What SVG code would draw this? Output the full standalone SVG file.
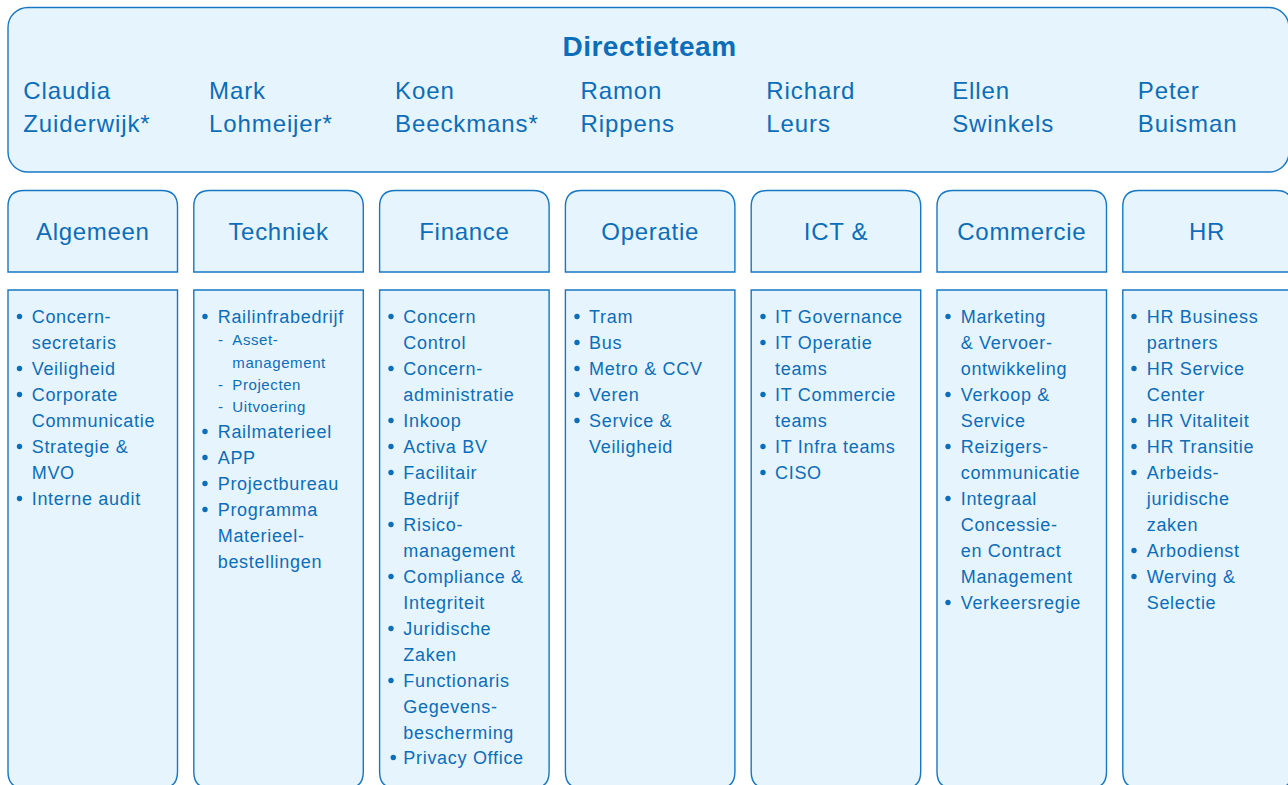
<svg xmlns="http://www.w3.org/2000/svg" width="1288" height="785" viewBox="0 0 1288 785">
<defs>
<style>
.box{fill:#e6f4fd;stroke:#1877c2;stroke-width:1.4}
text{font-family:"Liberation Sans",Arial,sans-serif;fill:#0c6db8}
.title{font-size:28px;font-weight:bold;letter-spacing:0.5px}
.name{font-size:24px;letter-spacing:0.9px}
.hdr{font-size:24px;letter-spacing:0.7px;text-anchor:middle}
.it{font-size:18px;letter-spacing:0.7px}
.sub{font-size:15px;letter-spacing:0.6px}
.b{fill:#0c6db8}
</style>
</defs>
<rect width="1288" height="785" fill="#ffffff"/>

<g id="directieteam">
<rect class="box" x="8" y="7.5" width="1281" height="164.5" rx="20"/>
<text class="title" x="649.5" y="56" text-anchor="middle">Directieteam</text>
<text class="name" x="23.3" y="99">Claudia<tspan x="23.3" y="131.5">Zuiderwijk*</tspan></text>
<text class="name" x="209" y="99">Mark<tspan x="209" y="131.5">Lohmeijer*</tspan></text>
<text class="name" x="395" y="99">Koen<tspan x="395" y="131.5">Beeckmans*</tspan></text>
<text class="name" x="580.5" y="99">Ramon<tspan x="580.5" y="131.5">Rippens</tspan></text>
<text class="name" x="766.3" y="99">Richard<tspan x="766.3" y="131.5">Leurs</tspan></text>
<text class="name" x="952.2" y="99">Ellen<tspan x="952.2" y="131.5">Swinkels</tspan></text>
<text class="name" x="1137.8" y="99">Peter<tspan x="1137.8" y="131.5">Buisman</tspan></text>
</g>

<g id="connectors"></g>

<g id="algemeen">
<path class="box" d="M8,272 V206.5 Q8,190.5 24,190.5 H161.5 Q177.5,190.5 177.5,206.5 V272 Z"/>
<text class="hdr" x="92.8" y="240">Algemeen</text>
<path class="box" d="M8,290 H177.5 V772 Q177.5,788 161.5,788 H24 Q8,788 8,772 Z"/>
<g class="b"><circle cx="19.5" cy="316.5" r="2.7"/><circle cx="19.5" cy="368.5" r="2.7"/><circle cx="19.5" cy="394.5" r="2.7"/><circle cx="19.5" cy="446.5" r="2.7"/><circle cx="19.5" cy="498.5" r="2.7"/></g>
<text class="it" x="31.7" y="323">Concern-<tspan x="31.7" y="349">secretaris</tspan></text>
<text class="it" x="31.7" y="375">Veiligheid</text>
<text class="it" x="31.7" y="401">Corporate<tspan x="31.7" y="427">Communicatie</tspan></text>
<text class="it" x="31.7" y="453">Strategie &amp;<tspan x="31.7" y="479">MVO</tspan></text>
<text class="it" x="31.7" y="505">Interne audit</text>
</g>

<g id="techniek">
<path class="box" d="M193.8,272 V206.5 Q193.8,190.5 209.8,190.5 H347.3 Q363.3,190.5 363.3,206.5 V272 Z"/>
<text class="hdr" x="278.6" y="240">Techniek</text>
<path class="box" d="M193.8,290 H363.3 V772 Q363.3,788 347.3,788 H209.8 Q193.8,788 193.8,772 Z"/>
<g class="b"><circle cx="205" cy="316.5" r="2.7"/><circle cx="205" cy="431.5" r="2.7"/><circle cx="205" cy="457.5" r="2.7"/><circle cx="205" cy="483.5" r="2.7"/><circle cx="205" cy="509.5" r="2.7"/></g>
<text class="it" x="217.7" y="323">Railinfrabedrijf</text>
<text class="sub" x="218" y="345">-</text>
<text class="sub" x="232.3" y="345">Asset-<tspan x="232.3" y="367.5">management</tspan></text>
<text class="sub" x="218" y="390">-</text>
<text class="sub" x="232.3" y="390">Projecten</text>
<text class="sub" x="218" y="412">-</text>
<text class="sub" x="232.3" y="412">Uitvoering</text>
<text class="it" x="217.7" y="438">Railmaterieel</text>
<text class="it" x="217.7" y="464">APP</text>
<text class="it" x="217.7" y="490">Projectbureau</text>
<text class="it" x="217.7" y="516">Programma<tspan x="217.7" y="542">Materieel-</tspan><tspan x="217.7" y="568">bestellingen</tspan></text>
</g>

<g id="finance">
<path class="box" d="M379.6,272 V206.5 Q379.6,190.5 395.6,190.5 H533.1 Q549.1,190.5 549.1,206.5 V272 Z"/>
<text class="hdr" x="464.4" y="240">Finance</text>
<path class="box" d="M379.6,290 H549.1 V772 Q549.1,788 533.1,788 H395.6 Q379.6,788 379.6,772 Z"/>
<g class="b"><circle cx="391" cy="316.5" r="2.7"/><circle cx="391" cy="368.5" r="2.7"/><circle cx="391" cy="420.5" r="2.7"/><circle cx="391" cy="446.5" r="2.7"/><circle cx="391" cy="472.5" r="2.7"/><circle cx="391" cy="524.5" r="2.7"/><circle cx="391" cy="576.5" r="2.7"/><circle cx="391" cy="628.5" r="2.7"/><circle cx="391" cy="680.5" r="2.7"/><circle cx="393.3" cy="757.5" r="2.7"/></g>
<text class="it" x="403.3" y="323">Concern<tspan x="403.3" y="349">Control</tspan></text>
<text class="it" x="403.3" y="375">Concern-<tspan x="403.3" y="401">administratie</tspan></text>
<text class="it" x="403.3" y="427">Inkoop</text>
<text class="it" x="403.3" y="453">Activa BV</text>
<text class="it" x="403.3" y="479">Facilitair<tspan x="403.3" y="505">Bedrijf</tspan></text>
<text class="it" x="403.3" y="531">Risico-<tspan x="403.3" y="557">management</tspan></text>
<text class="it" x="403.3" y="583">Compliance &amp;<tspan x="403.3" y="609">Integriteit</tspan></text>
<text class="it" x="403.3" y="635">Juridische<tspan x="403.3" y="661">Zaken</tspan></text>
<text class="it" x="403.3" y="687">Functionaris<tspan x="403.3" y="713">Gegevens-</tspan><tspan x="403.3" y="739">bescherming</tspan></text>
<text class="it" x="403.3" y="764">Privacy Office</text>
</g>

<g id="operatie">
<path class="box" d="M565.4,272 V206.5 Q565.4,190.5 581.4,190.5 H718.9 Q734.9,190.5 734.9,206.5 V272 Z"/>
<text class="hdr" x="650.2" y="240">Operatie</text>
<path class="box" d="M565.4,290 H734.9 V772 Q734.9,788 718.9,788 H581.4 Q565.4,788 565.4,772 Z"/>
<g class="b"><circle cx="577" cy="316.5" r="2.7"/><circle cx="577" cy="342.5" r="2.7"/><circle cx="577" cy="368.5" r="2.7"/><circle cx="577" cy="394.5" r="2.7"/><circle cx="577" cy="420.5" r="2.7"/></g>
<text class="it" x="589" y="323">Tram</text>
<text class="it" x="589" y="349">Bus</text>
<text class="it" x="589" y="375">Metro &amp; CCV</text>
<text class="it" x="589" y="401">Veren</text>
<text class="it" x="589" y="427">Service &amp;<tspan x="589" y="453">Veiligheid</tspan></text>
</g>

<g id="ict">
<path class="box" d="M751.2,272 V206.5 Q751.2,190.5 767.2,190.5 H904.7 Q920.7,190.5 920.7,206.5 V272 Z"/>
<text class="hdr" x="836" y="240">ICT &amp;</text>
<path class="box" d="M751.2,290 H920.7 V772 Q920.7,788 904.7,788 H767.2 Q751.2,788 751.2,772 Z"/>
<g class="b"><circle cx="763" cy="316.5" r="2.7"/><circle cx="763" cy="342.5" r="2.7"/><circle cx="763" cy="394.5" r="2.7"/><circle cx="763" cy="446.5" r="2.7"/><circle cx="763" cy="472.5" r="2.7"/></g>
<text class="it" x="775" y="323">IT Governance</text>
<text class="it" x="775" y="349">IT Operatie<tspan x="775" y="375">teams</tspan></text>
<text class="it" x="775" y="401">IT Commercie<tspan x="775" y="427">teams</tspan></text>
<text class="it" x="775" y="453">IT Infra teams</text>
<text class="it" x="775" y="479">CISO</text>
</g>

<g id="commercie">
<path class="box" d="M937,272 V206.5 Q937,190.5 953,190.5 H1090.5 Q1106.5,190.5 1106.5,206.5 V272 Z"/>
<text class="hdr" x="1021.8" y="240">Commercie</text>
<path class="box" d="M937,290 H1106.5 V772 Q1106.5,788 1090.5,788 H953 Q937,788 937,772 Z"/>
<g class="b"><circle cx="948" cy="316.5" r="2.7"/><circle cx="948" cy="394.5" r="2.7"/><circle cx="948" cy="446.5" r="2.7"/><circle cx="948" cy="498.5" r="2.7"/><circle cx="948" cy="602.5" r="2.7"/></g>
<text class="it" x="960.7" y="323">Marketing<tspan x="960.7" y="349">&amp; Vervoer-</tspan><tspan x="960.7" y="375">ontwikkeling</tspan></text>
<text class="it" x="960.7" y="401">Verkoop &amp;<tspan x="960.7" y="427">Service</tspan></text>
<text class="it" x="960.7" y="453">Reizigers-<tspan x="960.7" y="479">communicatie</tspan></text>
<text class="it" x="960.7" y="505">Integraal<tspan x="960.7" y="531">Concessie-</tspan><tspan x="960.7" y="557">en Contract</tspan><tspan x="960.7" y="583">Management</tspan></text>
<text class="it" x="960.7" y="609">Verkeersregie</text>
</g>

<g id="hr">
<path class="box" d="M1122.8,272 V206.5 Q1122.8,190.5 1138.8,190.5 H1276.3 Q1292.3,190.5 1292.3,206.5 V272 Z"/>
<text class="hdr" x="1207" y="240">HR</text>
<path class="box" d="M1122.8,290 H1292.3 V772 Q1292.3,788 1276.3,788 H1138.8 Q1122.8,788 1122.8,772 Z"/>
<g class="b"><circle cx="1134" cy="316.5" r="2.7"/><circle cx="1134" cy="368.5" r="2.7"/><circle cx="1134" cy="420.5" r="2.7"/><circle cx="1134" cy="446.5" r="2.7"/><circle cx="1134" cy="472.5" r="2.7"/><circle cx="1134" cy="550.5" r="2.7"/><circle cx="1134" cy="576.5" r="2.7"/></g>
<text class="it" x="1146.7" y="323">HR Business<tspan x="1146.7" y="349">partners</tspan></text>
<text class="it" x="1146.7" y="375">HR Service<tspan x="1146.7" y="401">Center</tspan></text>
<text class="it" x="1146.7" y="427">HR Vitaliteit</text>
<text class="it" x="1146.7" y="453">HR Transitie</text>
<text class="it" x="1146.7" y="479">Arbeids-<tspan x="1146.7" y="505">juridische</tspan><tspan x="1146.7" y="531">zaken</tspan></text>
<text class="it" x="1146.7" y="557">Arbodienst</text>
<text class="it" x="1146.7" y="583">Werving &amp;<tspan x="1146.7" y="609">Selectie</tspan></text>
</g>
</svg>
